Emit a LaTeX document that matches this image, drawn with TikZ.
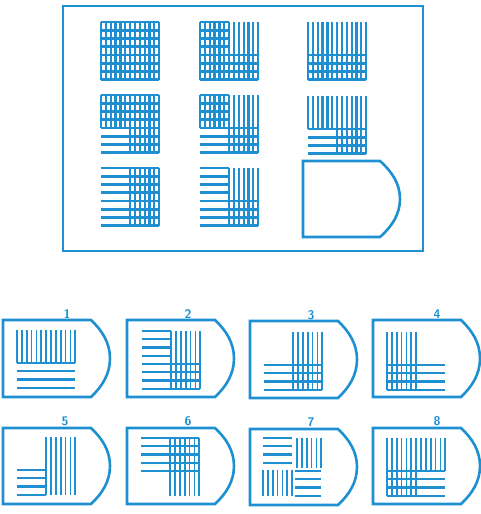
\documentclass[tikz,border=0pt]{standalone}
\definecolor{pb}{RGB}{30,144,210}
\def\gdx{4.85}
\def\gdy{8.25}
\newcommand\qV[6]{\foreach \i in {#3,...,#4}{\draw[glv] ({#1+\i*\gdx},{#2+#5*\gdy}) -- ({#1+\i*\gdx},{#2+#6*\gdy});}}
\newcommand\qH[6]{\foreach \j in {#5,...,#6}{\draw[glh] ({#1+#3*\gdx},{#2+\j*\gdy}) -- ({#1+#4*\gdx},{#2+\j*\gdy});}}
\newcommand\quadV[6]{\qV{#1}{#2}{#3}{#4}{#5}{#6}}
\newcommand\quadH[6]{\qH{#1}{#2}{#3}{#4}{#5}{#6}}
\newcommand\quadG[6]{\qV{#1}{#2}{#3}{#4}{#5}{#6}\qH{#1}{#2}{#3}{#4}{#5}{#6}}
\newcommand\quadN[6]{}
\newcommand\fig[6]{%
  \csname quad#3\endcsname{#1}{#2}{0}{6}{0}{4}%
  \csname quad#4\endcsname{#1}{#2}{6}{12}{0}{4}%
  \csname quad#5\endcsname{#1}{#2}{0}{6}{4}{7}%
  \csname quad#6\endcsname{#1}{#2}{6}{12}{4}{7}}
% x, y, width, flat top length, height
\newcommand\ansshape[5]{%
  \draw[shp] (#1,#2) -- ({#1+#4},#2)
    .. controls ({#1+#4+0.6*(#3-#4)},{#2+0.14*#5}) and ({#1+#3},{#2+0.3*#5}) .. ({#1+#3},{#2+0.5*#5})
    .. controls ({#1+#3},{#2+0.7*#5}) and ({#1+#4+0.6*(#3-#4)},{#2+0.86*#5}) .. ({#1+#4},{#2+#5})
    -- (#1,{#2+#5}) -- cycle;}
\begin{document}
\begin{tikzpicture}[x=1pt,y=-1pt,
  shp/.style={draw=pb,line width=2.6pt,line join=miter},
  lab/.style={text=pb,font=\fontsize{12.5}{14}\selectfont\sffamily\bfseries,inner sep=0pt}]
\useasboundingbox (0,0) rectangle (480,514);
% outer frame
\draw[shp] (63,6) rectangle (423,251);
% matrix
\begin{scope}[glv/.style={draw=pb,line width=2.2pt},glh/.style={draw=pb,line width=2.8pt}]
\fig{101}{22}{G}{G}{G}{G}
\fig{200}{22}{G}{V}{G}{G}
\fig{308}{22}{V}{V}{G}{G}
\fig{101}{95}{G}{G}{H}{G}
\fig{200}{95}{G}{V}{H}{G}
\fig{308}{96}{V}{V}{H}{G}
\fig{101}{168}{H}{G}{H}{G}
\fig{200}{168}{H}{V}{H}{G}
\end{scope}
\ansshape{303}{161}{97}{77}{76}
% answers
\ansshape{3}{320}{107}{88}{77}
\ansshape{127}{320}{107}{88}{77}
\ansshape{250}{321}{107}{88}{77}
\ansshape{373}{320}{107}{88}{77}
\ansshape{3}{428}{107}{88}{76}
\ansshape{127}{428}{107}{88}{76}
\ansshape{250}{429}{107}{88}{76}
\ansshape{373}{428}{107}{88}{76}
\node[lab] (l1) at (67,314) {1};
\node[lab] (l2) at (188,314) {2};
\node[lab] (l3) at (311,315) {3};
\node[lab] (l4) at (437,314) {4};
\node[lab] (l5) at (65,421) {5};
\node[lab] (l6) at (188,421) {6};
\node[lab] (l7) at (311,422) {7};
\node[lab] (l8) at (437,421) {8};
\begin{scope}[glv/.style={draw=pb,line width=1.7pt},glh/.style={draw=pb,line width=2.3pt}]
\fig{17}{330}{V}{V}{H}{H}
\fig{142}{331}{H}{V}{H}{G}
\fig{264}{332}{N}{V}{H}{G}
\fig{387}{332}{V}{N}{G}{H}
\fig{17}{437}{N}{V}{H}{V}
\fig{141}{438}{H}{G}{N}{V}
% answer 7
\qH{263}{438}{0}{6}{0}{3}
\qV{263}{438}{7}{12}{0}{3.6}
\qV{263}{438}{0}{6}{3.9}{7}
\qH{263}{438}{6.5}{12}{4}{7}
\fig{387}{438}{V}{V}{G}{H}
\end{scope}
\end{tikzpicture}
\end{document}
